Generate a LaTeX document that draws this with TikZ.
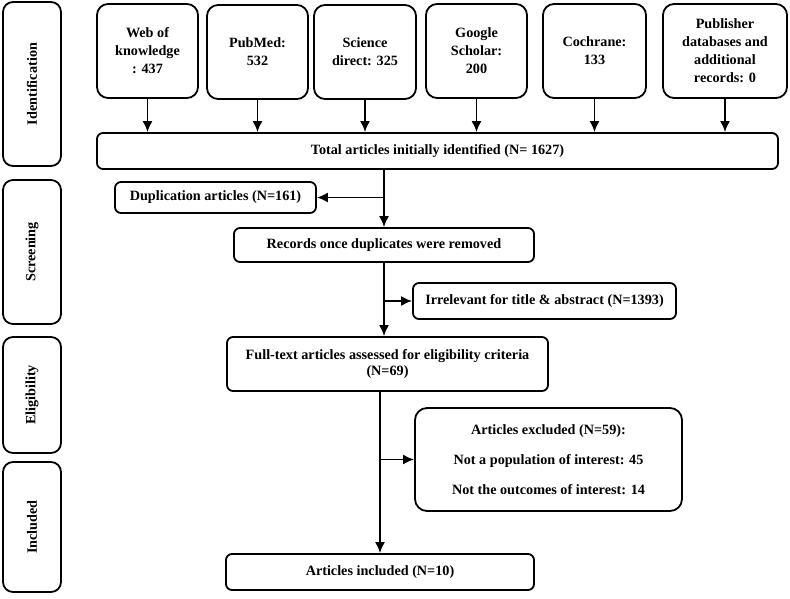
\documentclass[tikz,border=0pt]{standalone}
\usepackage{fontspec}
\setmainfont{Liberation Serif}
\usetikzlibrary{arrows.meta, positioning}
\newcommand{\flowfont}{\fontsize{14.2}{18}\selectfont\bfseries}
\tikzstyle{phase} = [rectangle, rounded corners=10pt,
minimum height=58pt, draw, line width=1.8pt,
rotate=90, font=\flowfont]
\tikzstyle{source} = [rectangle, rounded corners=11pt,
minimum width=101pt, minimum height=94pt,
align=center, draw, line width=1.8pt, font=\flowfont]
\tikzstyle{process} = [rectangle, rounded corners=6pt,
align=center, draw, line width=1.8pt, font=\flowfont]
\tikzstyle{arrow} = [line width=1.7pt, ->, >={Latex[length=11pt, width=10pt]}]

\begin{document}
\begin{tikzpicture}[x=1pt, y=-1pt]
    \useasboundingbox (0,0) rectangle (790,598);
    % phases
    \node (ph1) [phase, minimum width=164pt] at (32,84) {Identification};
    \node (ph2) [phase, minimum width=144pt] at (32,252) {Screening};
    \node (ph3) [phase, minimum width=116pt] at (32,395) {Eligibility};
    \node (ph4) [phase, minimum width=130pt] at (32,527) {Included};

    % databases
    \node (src1) [source] at (147.5,51) {Web of\\knowledge\\: 437};
    \node (src2) [source] at (257.5,52) {PubMed:\\532};
    \node (src3) [source, minimum width=102pt] at (365,52) {Science\\direct: 325};
    \node (src4) [source] at (476.5,51) {Google\\Scholar:\\200};
    \node (src5) [source, minimum width=103pt] at (594.5,51) {Cochrane:\\133};
    \node (src6) [source, minimum width=124pt] at (725,51)
        {Publisher\\databases and\\additional\\records: 0};

    \node (tot) [process, minimum width=681pt, minimum height=36pt] at (437.5,151)
        {Total articles initially identified (N= 1627)};
    \node (dup) [process, minimum width=201pt, minimum height=31pt] at (215.5,197.5)
        {Duplication articles (N=161)};
    \node (rec) [process, minimum width=300pt, minimum height=34pt] at (384,245)
        {Records once duplicates were removed};
    \node (irr) [process, minimum width=263pt, minimum height=36pt] at (544.5,301)
        {Irrelevant for title \& abstract (N=1393)};
    \node (full) [process, minimum width=321pt, minimum height=54pt,
        font=\fontsize{14.2}{16}\selectfont\bfseries] at (387.5,364)
        {Full-text articles assessed for eligibility criteria\\(N=69)};
    \node (excl) [process, rounded corners=12pt, minimum width=267pt,
        minimum height=103pt] at (548.5,459.5)
        {Articles excluded (N=59):\\[12pt]Not a population of interest: 45\\[12pt]Not the outcomes of interest: 14};
    \node (incl) [process, minimum width=308pt, minimum height=36pt] at (380,572)
        {Articles included (N=10)};

    \foreach \s in {src1,src2,src3,src4,src5,src6}
        \draw [arrow] (\s.south) -- (\s.south |- tot.north);

    \draw [arrow] (tot.south -| rec.north) -- (rec.north);
    \draw [arrow] (dup.east -| rec.north) -- (dup.east);
    \draw [arrow] (rec.south) -- (rec.south |- full.north);
    \draw [arrow] (irr.west -| rec.south) -- (irr.west);
    \draw [arrow] (full.south -| incl.north) -- (incl.north);
    \draw [arrow] (excl.west -| incl.north) -- (excl.west);
\end{tikzpicture}
\end{document}
